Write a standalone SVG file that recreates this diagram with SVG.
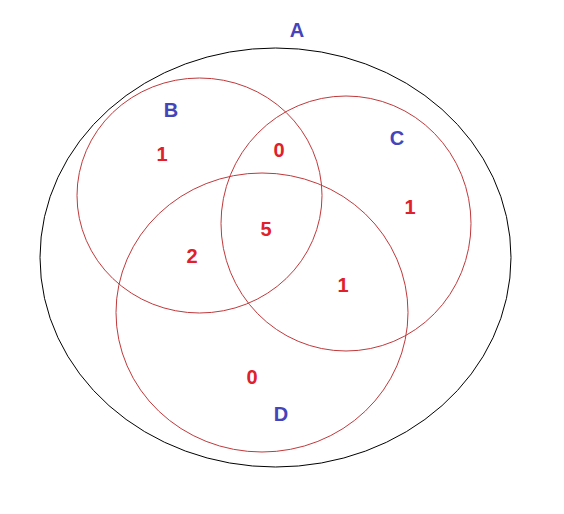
<svg xmlns="http://www.w3.org/2000/svg" width="564" height="514" viewBox="0 0 564 514">
<style>
.c{fill:none;stroke:#c0393b;stroke-width:1}
.l{font-family:"Liberation Sans",Arial,sans-serif;font-weight:bold;font-size:20px;fill:#4444bb;text-anchor:middle}
.n{font-family:"Liberation Sans",Arial,sans-serif;font-weight:bold;font-size:20px;fill:#e0202a;text-anchor:middle}
</style>
<rect width="564" height="514" fill="#fff"/>
<g id="A"><ellipse cx="275.5" cy="257.5" rx="235.5" ry="209.5" fill="none" stroke="#000"/><text class="l" x="297" y="37">A</text></g>
<g id="B"><ellipse class="c" cx="199.5" cy="195.5" rx="122.5" ry="117.5"/><text class="l" x="171" y="117">B</text></g>
<g id="C"><ellipse class="c" cx="346" cy="223.5" rx="125" ry="127.5"/><text class="l" x="397" y="145">C</text></g>
<g id="D"><ellipse class="c" cx="262" cy="312.5" rx="146" ry="139.5"/><text class="l" x="281" y="421">D</text></g>
<g id="nums">
<text class="n" x="162" y="161">1</text>
<text class="n" x="279" y="157">0</text>
<text class="n" x="410" y="214">1</text>
<text class="n" x="266" y="236">5</text>
<text class="n" x="192" y="263">2</text>
<text class="n" x="343" y="292">1</text>
<text class="n" x="252" y="384">0</text>
</g>
</svg>
